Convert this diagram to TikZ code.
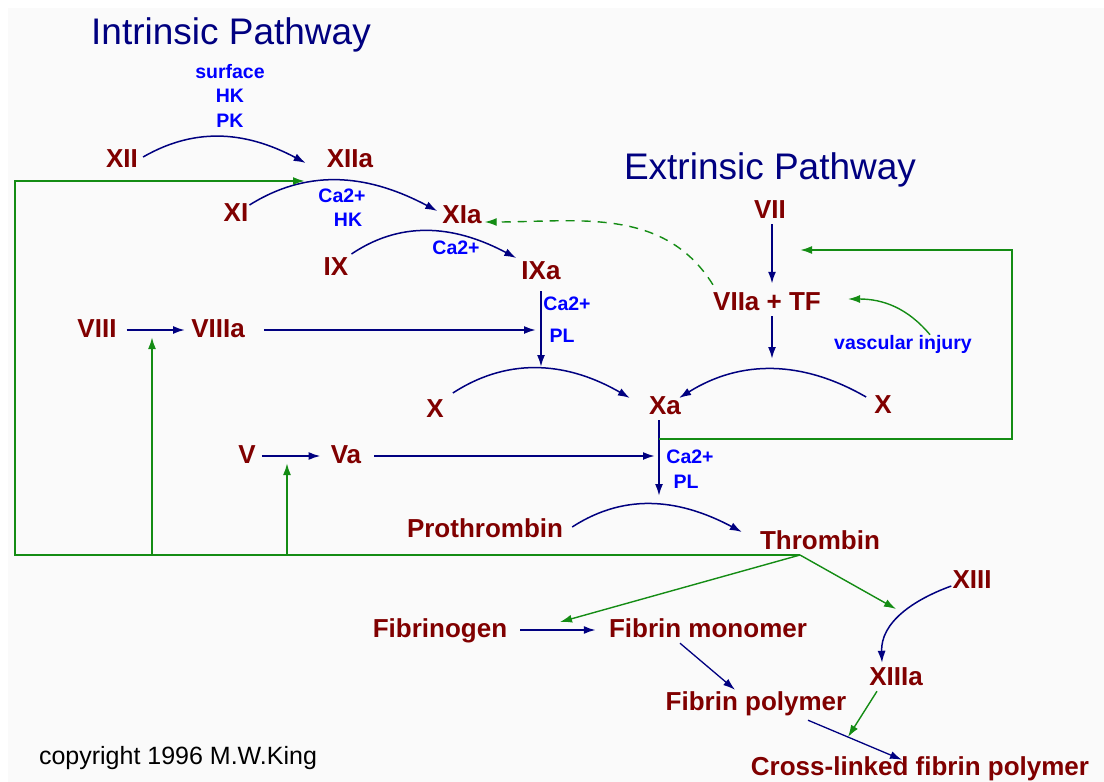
\documentclass[tikz,border=0pt]{standalone}
\usepackage{fontspec}
\setmainfont{Liberation Sans}
\usetikzlibrary{arrows.meta}

\definecolor{factorred}{RGB}{128,0,0}
\definecolor{pathnavy}{RGB}{0,0,128}
\definecolor{cofactorblue}{RGB}{0,0,255}
\definecolor{feedgreen}{RGB}{20,140,20}

\begin{document}
\begin{tikzpicture}[x=1pt,y=-1pt,
  % text styles
  title/.style={text=pathnavy, font=\fontsize{37}{39}\selectfont, inner sep=0pt},
  factor/.style={text=factorred, font=\bfseries\fontsize{26}{28}\selectfont,
    text height=19pt, text depth=5pt, inner sep=1pt},
  cofactor/.style={text=cofactorblue, font=\bfseries\fontsize{19.5}{21}\selectfont, inner sep=0pt},
  % connector styles
  conv/.style={draw=pathnavy, line width=1.5pt, -{Latex[length=12pt,width=8pt]}},
  step arrow/.style={draw=pathnavy, line width=2pt, -{Latex[length=12pt,width=8pt]}},
  feed/.style={draw=feedgreen, line width=2pt, -{Latex[length=12pt,width=8pt]}},
  thin feed/.style={draw=feedgreen, line width=1.4pt, -{Latex[length=12pt,width=8pt]}}
  ]

\useasboundingbox (0,0) rectangle (1104,782);
\fill[black!2] (8,8) rectangle (1104,782);

% titles
\node[title] (intr) at (231,35) {Intrinsic Pathway};
\node[title] (extr) at (770,170) {Extrinsic Pathway};

% intrinsic factors
\node[factor] (XII)   at (122,160) {XII};
\node[factor] (XIIa)  at (350,160) {XIIa};
\node[factor] (XI)    at (236,214) {XI};
\node[factor] (XIa)   at (462,216) {XIa};
\node[factor] (IX)    at (336,268) {IX};
\node[factor] (IXa)   at (541,272) {IXa};
\node[factor] (VIII)  at (97,330)  {VIII};
\node[factor] (VIIIa) at (218,330) {VIIIa};

% extrinsic factors
\node[factor] (VII)   at (770,211) {VII};
\node[factor] (VIIa)  at (767,303) {VIIa + TF};
\node[cofactor] (vasc) at (903,344) {vascular injury};

% common pathway
\node[factor] (Xl)    at (435,410) {X};
\node[factor] (Xa)    at (665,407) {Xa};
\node[factor] (Xr)    at (883,406) {X};
\node[factor] (V)     at (247,456) {V};
\node[factor] (Va)    at (346,456) {Va};
\node[factor] (Pro)   at (485,530) {Prothrombin};
\node[factor] (Thr)   at (820,542) {Thrombin};
\node[factor] (XIII)  at (972,581) {XIII};
\node[factor] (Fg)    at (440,630) {Fibrinogen};
\node[factor] (FM)    at (708,630) {Fibrin monomer};
\node[factor] (XIIIa) at (896,678) {XIIIa};
\node[factor] (FP)    at (756,703) {Fibrin polymer};
\node[factor] (CL)    at (920,768) {Cross-linked fibrin polymer};

\node[font=\fontsize{25}{27}\selectfont, inner sep=0pt] (copy) at (178,758) {copyright 1996 M.W.King};

% cofactors
\node[cofactor] (c1) at (230,72)  {surface};
\node[cofactor] (c2) at (230,96)  {HK};
\node[cofactor] (c3) at (230,121) {PK};
\node[cofactor] (c4) at (342,196) {Ca2+};
\node[cofactor] (c5) at (348,220) {HK};
\node[cofactor] (c6) at (456,248) {Ca2+};
\node[cofactor] (c7) at (567,304) {Ca2+};
\node[cofactor] (c8) at (562,336) {PL};
\node[cofactor] (c9) at (690,457) {Ca2+};
\node[cofactor] (c10) at (686,482) {PL};

% points where arrows meet other arrows
\coordinate (ltop)   at (539,367);
\coordinate (rtop)   at (772,369);
\coordinate (xastem) at (659,439);
\coordinate (thrtop) at (659,500);
\coordinate (tb)     at (800,555);
\coordinate (xiin)   at (305,181);
\coordinate (viiiin) at (152,337);
\coordinate (vin)    at (287,463);
\coordinate (viiin)  at (800,250);
\coordinate (fibin)  at (560,622);
\coordinate (xiiiin) at (896,609);
\coordinate (xlink)  at (848,737);

% --- intrinsic cascade ---
\draw[conv] ([xshift=4pt,yshift=3pt]XII.east) to[out=30,in=152] ([xshift=-20pt,yshift=-3pt]XIIa.west);
\draw[conv] ([yshift=9pt]XI.east) to[out=32,in=152] ([xshift=-4pt,yshift=5pt]XIa.west);
\draw[conv] ([xshift=2pt,yshift=14pt]IX.east) to[out=34,in=152] ([xshift=-4pt,yshift=14pt]IXa.west);
\draw[step arrow, shorten <=6pt] (IXa.south) -- (IXa.south |- ltop);
\draw[step arrow, shorten <=9pt, shorten >=5pt] (VIII.east) -- (VIIIa.west);
\draw[step arrow, shorten <=18pt, shorten >=5pt] (VIIIa.east) -- (VIIIa.east -| IXa);

% --- extrinsic ---
\draw[step arrow, shorten >=6pt] (VII.south -| rtop) -- (VIIa.north -| rtop);
\draw[step arrow] (VIIa.south -| rtop) -- ([yshift=10pt]rtop);
\draw[conv] ([xshift=8pt,yshift=17pt]Xl.east) to[out=33,in=150] ([xshift=-18pt,yshift=9pt]Xa.west);
\draw[conv] ([xshift=-7pt,yshift=9pt]Xr.west) to[out=150,in=32] ([xshift=-3pt,yshift=9pt]Xa.east);

% --- common pathway ---
\draw[step arrow, shorten <=5pt, shorten >=9pt] (V.east) -- (Va.west);
\draw[step arrow, shorten <=12pt, shorten >=4pt] (Va.east) -- (Va.east -| xastem);
\draw[step arrow] (Xa.south -| xastem) -- ([yshift=4pt]thrtop);
\draw[conv] ([xshift=8pt,yshift=3pt]Pro.east) to[out=33,in=152] ([xshift=-17pt,yshift=10pt]Thr.west);
\draw[step arrow, shorten <=12pt, shorten >=12pt] (Fg.east) -- (FM.west);
\draw[conv, line width=1.3pt] ([xshift=-28pt]FM.south) -- ([xshift=-21pt]FP.north);
\draw[conv, line width=1.3pt] ([xshift=52pt,yshift=-4pt]FP.south) -- ([xshift=-18pt,yshift=-5pt]CL.north);
\draw[conv] ([yshift=-5pt]XIII.west) to[out=200,in=92] ([xshift=-14pt,yshift=2pt]XIIIa.north);

% --- feedback (green) ---
\draw[feed] (tb) -| (15,181) -- (xiin);
\draw[feed] (viiiin |- tb) -- (viiiin);
\draw[feed] (vin |- tb) -- (vin);
\draw[feed] (xastem) -| (1012,250) -- (viiin);
\draw[thin feed] (tb) -- (fibin);
\draw[thin feed] (tb) -- (xiiiin);
\draw[thin feed] ([xshift=-19pt]XIIIa.south) -- (xlink);
\draw[thin feed, dashed, dash pattern=on 9pt off 7pt] ([xshift=1pt,yshift=5pt]VIIa.north west) to[out=122,in=0] ([xshift=2pt,yshift=-6pt]XIa.east);
\draw[thin feed] ([xshift=27pt]vasc.north) to[out=130,in=0] ([xshift=26pt,yshift=4pt]VIIa.east);

\end{tikzpicture}
\end{document}
